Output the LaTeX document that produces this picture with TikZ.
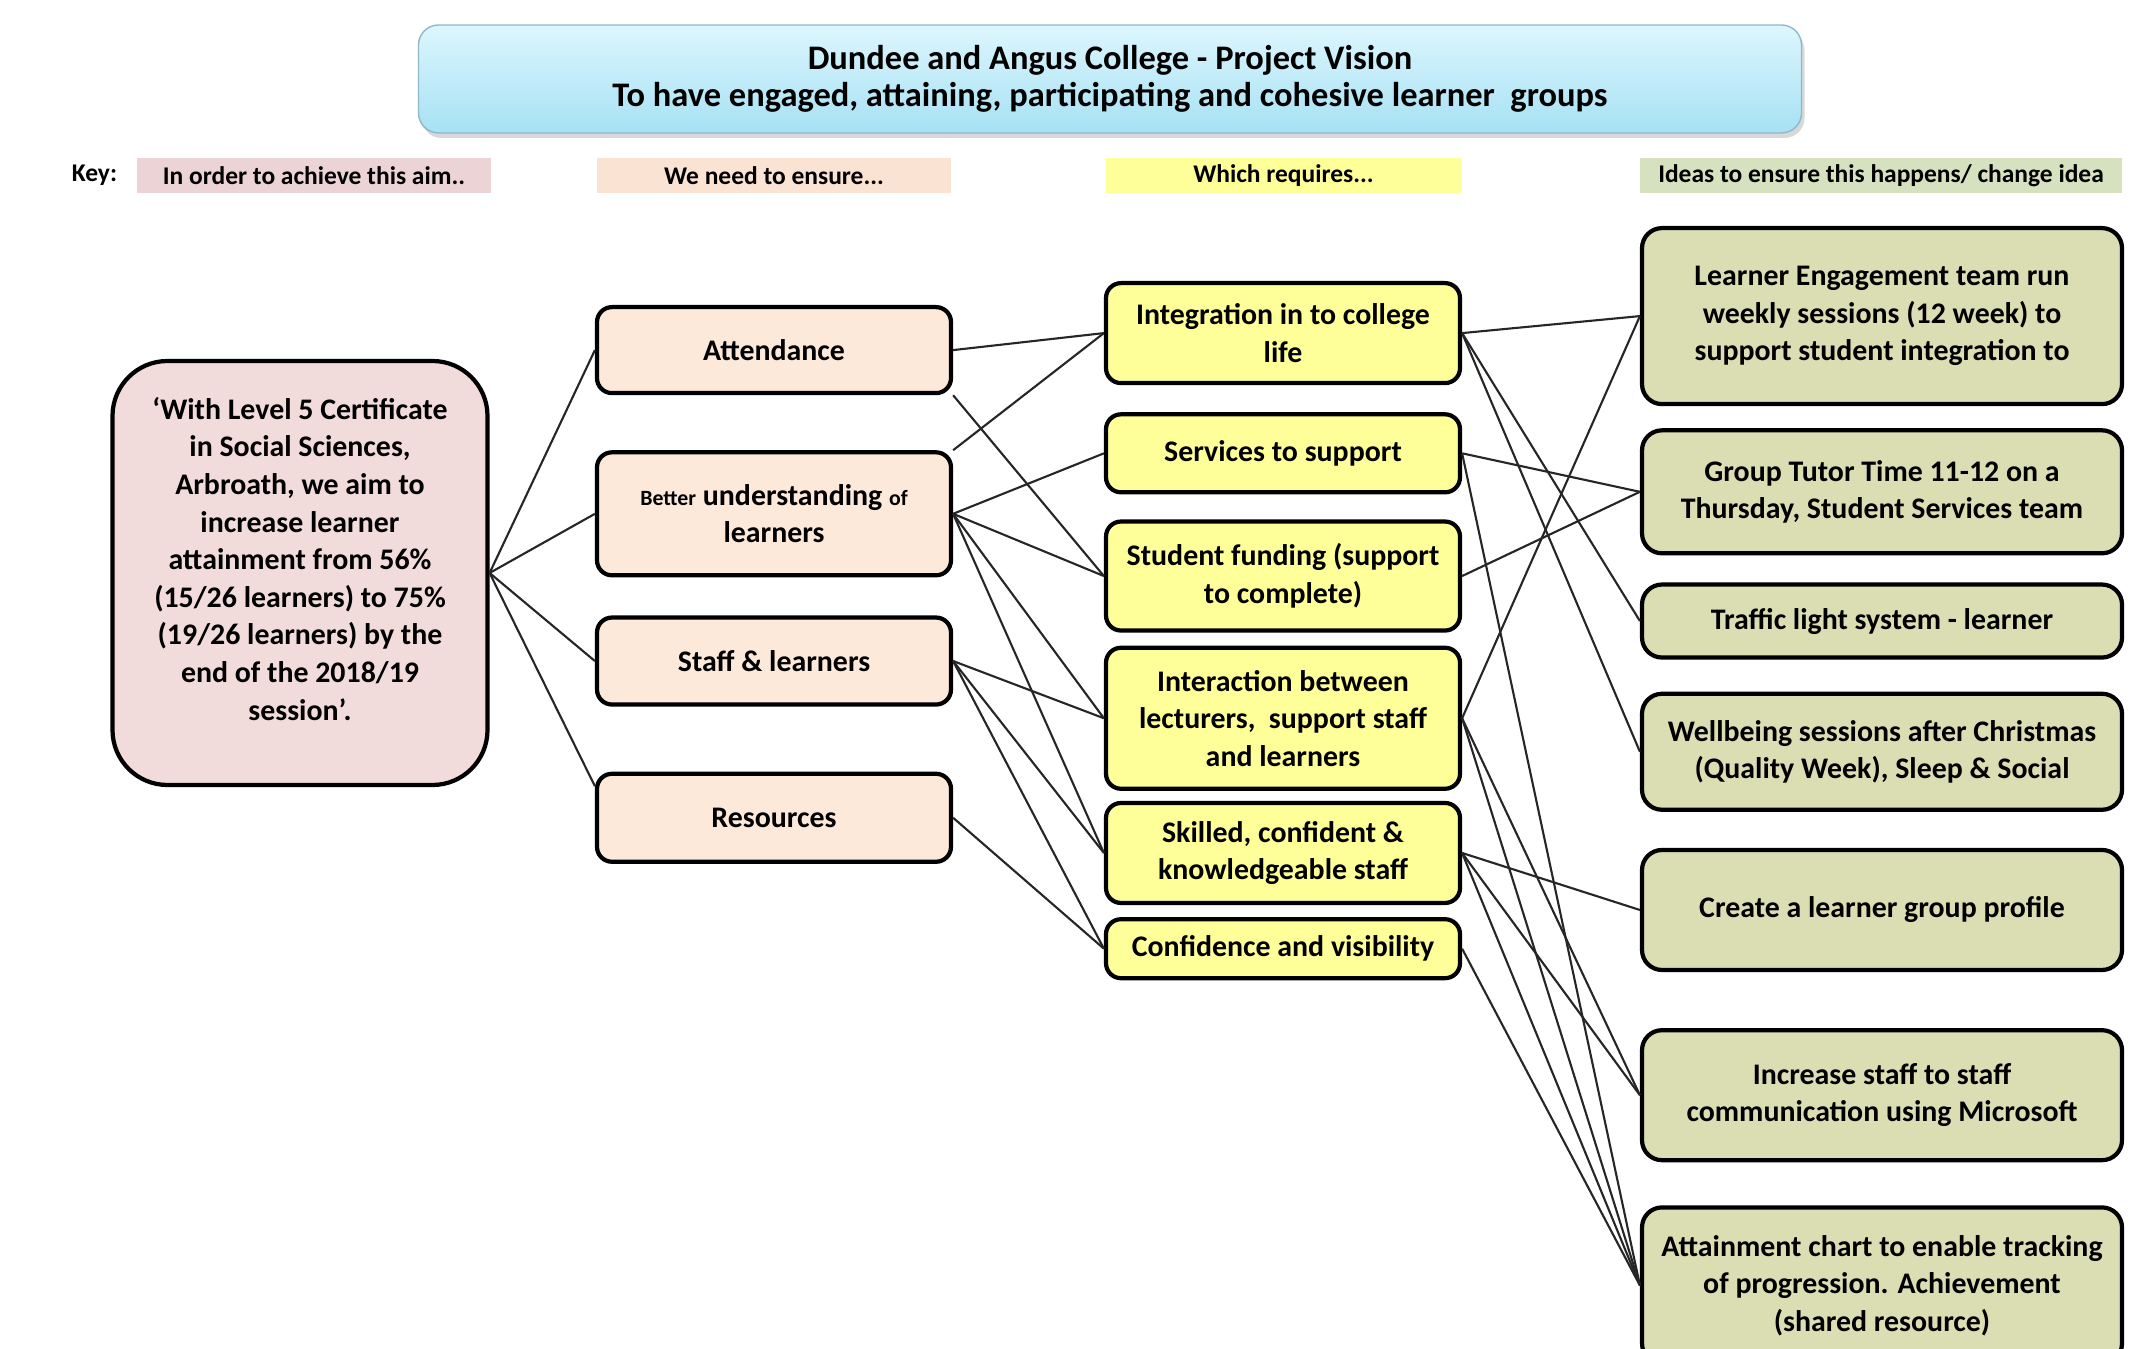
\documentclass[tikz,border=0pt]{standalone}
\usepackage{fontspec}
\setmainfont{Carlito}
\usepackage{tikz}
\usetikzlibrary{positioning, shadows}
\definecolor{aimpink}{HTML}{F2DCDB}
\definecolor{peach}{HTML}{FDE9D9}
\definecolor{lemon}{HTML}{FFFF99}
\definecolor{olive}{HTML}{DBDEB3}
\definecolor{keypink}{HTML}{EBD3D6}
\definecolor{keypeach}{HTML}{FBE3D4}
\definecolor{keygreen}{HTML}{D6E2BF}
\definecolor{titletop}{HTML}{DDF6FD}
\definecolor{titlebot}{HTML}{A6E1F4}
\definecolor{titleedge}{HTML}{8FB8CC}
\newcommand{\boxfont}{\fontsize{8.5}{10.7}\selectfont\bfseries}
\newcommand{\keyfont}{\fontsize{7.25}{8.5}\selectfont\bfseries}
\newcommand{\tinyword}[1]{{\fontsize{6.2}{7}\selectfont #1}}
\tikzstyle{titleblock} = [rectangle, draw=titleedge, top color=titletop, bottom color=titlebot,
align=center, rounded corners=0.2cm, minimum width=13.83cm, minimum height=1.08cm,
font=\fontsize{9.8}{10.4}\selectfont\bfseries,
drop shadow={opacity=0.3, shadow xshift=0.03cm, shadow yshift=-0.05cm}]
\tikzstyle{aimblock} = [rectangle, draw, fill=aimpink, line width=1.2pt,
align=center, rounded corners=0.55cm, minimum width=3.75cm, minimum height=4.24cm]
\tikzstyle{pblock} = [rectangle, draw, fill=peach, line width=1.2pt,
align=center, rounded corners=0.15cm, minimum width=3.54cm]
\tikzstyle{yblock} = [rectangle, draw, fill=lemon, line width=1.2pt,
align=center, rounded corners=0.15cm, minimum width=3.54cm]
\tikzstyle{gblock} = [rectangle, draw, fill=olive, line width=1.2pt,
align=center, rounded corners=0.2cm, minimum width=4.8cm]
\tikzstyle{kblock} = [rectangle, font=\keyfont, minimum height=0.35cm, inner sep=0pt]
\tikzstyle{conline} = [line width=0.6pt, draw=black!85]

\begin{document}
\begin{tikzpicture}[node distance=2cm]
                \tikzstyle{every node}=[font=\boxfont]
                \fill[white] (0,0) rectangle (21.51,-13.49);
                \useasboundingbox (0,0) rectangle (21.51,-13.49);
                \node (0) [titleblock] at (11.10,-0.79) {Dundee and Angus College - Project Vision\\To have engaged, attaining, participating and cohesive learner~ groups};
                % key
                \node (19) [kblock] at (0.945,-1.755) {Key:};
                \node (20) [kblock, fill=keypink, minimum width=3.54cm] at (3.14,-1.755) {In order to achieve this aim..};
                \node (21) [kblock, fill=keypeach, minimum width=3.54cm] at (7.74,-1.755) {We need to ensure...};
                \node (22) [kblock, fill=lemon, minimum width=3.55cm] at (12.835,-1.755) {Which requires...};
                \node (23) [kblock, fill=keygreen, minimum width=4.82cm] at (18.81,-1.755) {Ideas to ensure this happens/ change idea};
                % aim
                \node (1) [aimblock] at (3.00,-5.73) {‘With Level 5 Certificate\\in Social Sciences,\\Arbroath, we aim to\\increase learner\\attainment from 56\%\\(15/26 learners) to 75\%\\(19/26 learners) by the\\end of the 2018/19\\session’.\\[-2.5pt]\mbox{}};
                % we need to ensure
                \node (2) [pblock, minimum height=0.86cm, anchor=north] at (7.74,-3.05) {Attendance};
                \node (3) [pblock, minimum height=1.23cm, below=0.55cm of 2] {\tinyword{Better} understanding \tinyword{of}\\learners};
                \node (4) [pblock, minimum height=0.87cm, below=0.38cm of 3] {Staff \& learners};
                \node (5) [pblock, minimum height=0.88cm, below=0.65cm of 4] {Resources};
                % which requires
                \node (6) [yblock, minimum height=1.00cm, anchor=north] at (12.83,-2.81) {Integration in to college\\life};
                \node (7) [yblock, minimum height=0.78cm, below=0.27cm of 6] {Services to support};
                \node (8) [yblock, minimum height=1.09cm, below=0.25cm of 7] {Student funding (support\\to complete)};
                \node (9) [yblock, minimum height=1.41cm, below=0.13cm of 8] {Interaction between\\lecturers,~ support staff\\and learners};
                \node (10) [yblock, minimum height=1.00cm, below=0.10cm of 9] {Skilled, confident \&\\knowledgeable staff};
                \node (11) [yblock, minimum height=0.59cm, below=0.12cm of 10] {Confidence and visibility};
                % ideas
                \node (12) [gblock, minimum height=1.76cm, anchor=north] at (18.82,-2.26) {Learner Engagement team run\\weekly sessions (12 week) to\\support student integration to};
                \node (13) [gblock, minimum height=1.23cm, below=0.22cm of 12] {Group Tutor Time 11-12 on a\\Thursday, Student Services team};
                \node (14) [gblock, minimum height=0.73cm, below=0.27cm of 13] {Traffic light system - learner};
                \node (15) [gblock, minimum height=1.16cm, below=0.32cm of 14] {Wellbeing sessions after Christmas\\(Quality Week), Sleep \& Social};
                \node (16) [gblock, minimum height=1.20cm, below=0.36cm of 15] {Create a learner group profile};
                \node (17) [gblock, minimum height=1.30cm, below=0.56cm of 16] {Increase staff to staff\\communication using Microsoft};
                \node (18) [gblock, minimum height=1.56cm, below=0.43cm of 17] {Attainment chart to enable tracking\\of progression. Achievement\\(shared resource)};
                % links
                \draw [conline] (1.east) -- (2.west);
                \draw [conline] (1.east) -- (3.west);
                \draw [conline] (1.east) -- (4.west);
                \draw [conline] (1.east) -- (5.170);
                \draw [conline] (2.east) -- (6.west);
                \draw [conline] (2.south east) -- (8.west);
                \draw [conline] (3.north east) -- (6.west);
                \draw [conline] (3.east) -- (7.west);
                \draw [conline] (3.east) -- (8.west);
                \draw [conline] (3.east) -- (9.west);
                \draw [conline] (3.east) -- (10.west);
                \draw [conline] (4.east) -- (9.west);
                \draw [conline] (4.east) -- (10.west);
                \draw [conline] (4.east) -- (11.west);
                \draw [conline] (5.east) -- (11.west);
                \draw [conline] (6.east) -- (12.west);
                \draw [conline] (6.east) -- (14.west);
                \draw [conline] (6.east) -- (15.west);
                \draw [conline] (7.east) -- (13.west);
                \draw [conline] (7.east) -- (18.west);
                \draw [conline] (8.east) -- (13.west);
                \draw [conline] (9.east) -- (12.west);
                \draw [conline] (9.east) -- (17.west);
                \draw [conline] (9.east) -- (18.west);
                \draw [conline] (10.east) -- (16.west);
                \draw [conline] (10.east) -- (17.west);
                \draw [conline] (10.east) -- (18.west);
                \draw [conline] (11.east) -- (18.west);
        \end{tikzpicture}
\end{document}
